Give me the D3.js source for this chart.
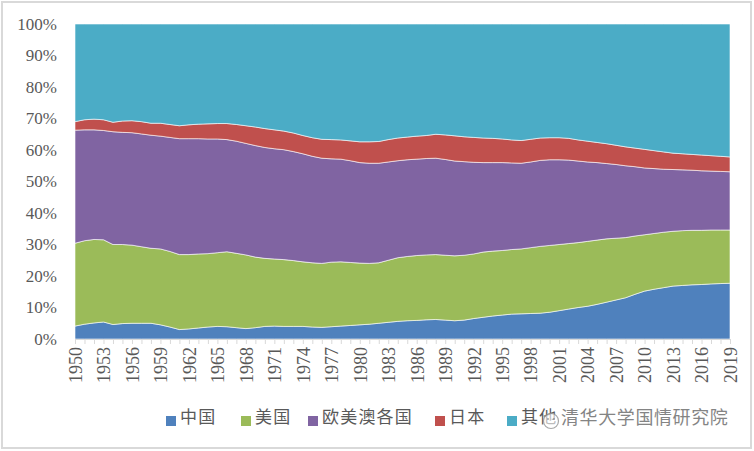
<!DOCTYPE html>
<html>
<head>
<meta charset="utf-8">
<script src="https://cdn.jsdelivr.net/npm/d3@7"></script>
<style>
  html, body { margin: 0; padding: 0; background: #fff; }
  svg { display: block; }
</style>
</head>
<body>
<svg id="chart" width="754" height="451"></svg>
<script>
// ---------------- data ----------------
const years = [1950,1951,1952,1953,1954,1955,1956,1957,1958,1959,1960,1961,1962,1963,1964,1965,1966,1967,1968,1969,
  1970,1971,1972,1973,1974,1975,1976,1977,1978,1979,1980,1981,1982,1983,1984,1985,1986,1987,1988,1989,
  1990,1991,1992,1993,1994,1995,1996,1997,1998,1999,2000,2001,2002,2003,2004,2005,2006,2007,2008,2009,
  2010,2011,2012,2013,2014,2015,2016,2017,2018,2019];

const seriesNames = ["中国", "美国", "欧美澳各国", "日本", "其他"];

const china = [4.1,4.7,5.1,5.4,4.6,4.9,5.0,5.0,5.0,4.5,3.8,3.0,3.2,3.5,3.8,4.0,3.9,3.6,3.3,3.6,
  4.0,4.1,4.0,4.0,4.0,3.8,3.7,3.9,4.1,4.3,4.5,4.7,5.0,5.3,5.6,5.8,5.9,6.1,6.2,6.0,
  5.8,6.0,6.5,6.9,7.3,7.6,7.9,8.0,8.1,8.2,8.5,9.0,9.5,10.0,10.4,11.0,11.7,12.4,13.1,14.2,
  15.2,15.8,16.3,16.8,17.0,17.2,17.3,17.5,17.6,17.7];

const usa = [26.3,26.5,26.5,26.1,25.4,25.1,24.8,24.3,23.8,24.1,24.0,23.8,23.6,23.5,23.3,23.4,23.8,23.6,23.4,22.4,
  21.6,21.3,21.2,20.9,20.5,20.4,20.3,20.5,20.4,20.0,19.6,19.3,19.2,19.7,20.2,20.4,20.6,20.6,20.6,20.6,
  20.6,20.6,20.5,20.7,20.6,20.5,20.5,20.6,20.9,21.2,21.2,21.0,20.8,20.6,20.6,20.4,20.1,19.6,19.1,18.5,
  17.9,17.7,17.6,17.4,17.4,17.3,17.2,17.1,17.0,16.9];

const europe = [35.9,35.2,34.8,34.7,35.8,35.6,35.7,35.8,35.9,35.8,36.2,36.8,36.8,36.6,36.4,36.1,35.6,35.6,35.4,35.4,
  35.2,35.0,34.9,34.6,34.3,33.8,33.4,32.8,32.6,32.3,31.9,31.8,31.6,31.2,30.8,30.7,30.6,30.6,30.6,30.4,
  30.1,29.7,29.1,28.4,28.1,27.9,27.5,27.2,27.2,27.3,27.2,26.9,26.5,25.9,25.2,24.6,23.9,23.4,22.8,22.0,
  21.2,20.6,20.0,19.6,19.3,19.1,18.9,18.7,18.6,18.5];

const japan = [2.7,3.2,3.4,3.4,3.0,3.6,3.8,3.9,3.8,4.1,4.1,4.1,4.4,4.6,4.8,4.9,5.1,5.3,5.6,5.9,
  6.0,6.0,5.9,5.9,5.8,5.9,6.0,6.1,6.1,6.3,6.6,6.8,6.9,7.1,7.2,7.2,7.3,7.3,7.6,7.8,
  8.0,7.9,7.9,7.8,7.7,7.5,7.3,7.2,7.2,7.1,7.0,7.0,6.9,6.7,6.6,6.4,6.3,6.1,6.0,5.9,
  5.9,5.7,5.5,5.2,5.1,5.0,5.0,4.9,4.8,4.7];

const others = [31.0,30.4,30.2,30.4,31.2,30.8,30.7,31.0,31.5,31.5,31.9,32.3,32.0,31.8,31.7,31.6,31.6,31.9,32.3,32.7,
  33.2,33.6,34.0,34.6,35.4,36.1,36.6,36.7,36.8,37.1,37.4,37.4,37.3,36.7,36.2,35.9,35.6,35.4,35.0,35.2,
  35.5,35.8,36.0,36.2,36.3,36.5,36.8,37.0,36.6,36.2,36.1,36.1,36.3,36.8,37.2,37.6,38.0,38.5,39.0,39.4,
  39.8,40.2,40.6,41.0,41.2,41.4,41.6,41.8,42.0,42.2];

const xTickLabels = ["1950","1953","1956","1959","1962","1965","1968","1971","1974","1977","1980","1983",
  "1986","1989","1992","1995","1998","2001","2004","2007","2010","2013","2016","2019"];
const yTickValues = [0,10,20,30,40,50,60,70,80,90,100];
const yTickLabels = ["0%","10%","20%","30%","40%","50%","60%","70%","80%","90%","100%"];

const colors = ["#4F81BD", "#9BBB59", "#8064A2", "#C0504D", "#4BACC6"];
const watermark = "清华大学国情研究院";

// ---------------- build ----------------
const seriesValues = [china, usa, europe, japan, others];
const rows = years.map((y, i) => {
  const r = { year: y };
  seriesNames.forEach((n, k) => { r[n] = seriesValues[k][i]; });
  return r;
});

const svg = d3.select("#chart");
const W = 754, H = 451;

// outer frame
svg.append("rect")
  .attr("x", 2).attr("y", 2).attr("width", W - 5).attr("height", H - 5)
  .attr("fill", "#fff").attr("stroke", "#d9d9d9").attr("stroke-width", 2);

const x = d3.scaleLinear().domain([1950, 2019]).range([75, 730]);
const y = d3.scaleLinear().domain([0, 100]).range([339, 24]);

const stack = d3.stack().keys(seriesNames);
const layers = stack(rows);

const area = d3.area()
  .x(d => x(d.data.year))
  .y0(d => y(d[0]))
  .y1(d => y(d[1]));

svg.append("g").selectAll("path")
  .data(layers)
  .join("path")
  .attr("d", area)
  .attr("fill", (d, i) => colors[i])
  .attr("stroke", "#ffffff")
  .attr("stroke-opacity", 0.75)
  .attr("stroke-width", 0.8);

// Y axis
const yAxis = d3.axisLeft(y)
  .tickValues(yTickValues)
  .tickSize(0)
  .tickPadding(0)
  .tickFormat((d, i) => yTickLabels[i]);
const gy = svg.append("g").attr("transform", "translate(57,0)").call(yAxis);
gy.select(".domain").remove();
gy.selectAll("text")
  .attr("font-family", "'Liberation Serif', 'Times New Roman', serif")
  .attr("font-size", 17)
  .attr("fill", "#595959");

// X axis ticks (every year)
const xTicks = d3.axisBottom(x)
  .tickValues(years)
  .tickSize(5)
  .tickFormat("");
const gxt = svg.append("g").attr("transform", "translate(0,339)").call(xTicks);
gxt.select(".domain").attr("stroke", "#d9d9d9");
gxt.selectAll(".tick line").attr("stroke", "#d9d9d9");

// X axis labels (every 3 years, rotated)
const xLab = d3.axisBottom(x)
  .tickValues(xTickLabels.map(Number))
  .tickSize(0)
  .tickFormat((d, i) => xTickLabels[i]);
const gxl = svg.append("g").attr("transform", "translate(0,339)").call(xLab);
gxl.select(".domain").remove();
gxl.selectAll("text")
  .attr("font-family", "'Liberation Serif', 'Times New Roman', serif")
  .attr("font-size", 18)
  .attr("fill", "#595959")
  .attr("text-anchor", "end")
  .attr("dy", "0.35em")
  .attr("y", 0)
  .attr("transform", "translate(0,8) rotate(-90)");

// Legend
const legendX = [166, 241, 308, 435, 507];
const lg = svg.append("g");
seriesNames.forEach((n, i) => {
  lg.append("rect")
    .attr("x", legendX[i]).attr("y", 416)
    .attr("width", 10).attr("height", 10)
    .attr("fill", colors[i]);
  lg.append("text")
    .attr("x", legendX[i] + 14).attr("y", 423)
    .attr("font-family", "'Noto Sans CJK SC', sans-serif")
    .attr("font-size", 17)
    .attr("letter-spacing", 1.2)
    .attr("fill", "#595959")
    .text(n);
});

// Watermark (overlapping legend, as in source image)
const wm = svg.append("g").attr("opacity", 0.85);
wm.append("circle").attr("cx", 551).attr("cy", 421).attr("r", 7.5)
  .attr("fill", "#fff").attr("fill-opacity", 0.7)
  .attr("stroke", "#999").attr("stroke-width", 1.2);
wm.append("circle").attr("cx", 548).attr("cy", 419).attr("r", 1).attr("fill", "#999");
wm.append("circle").attr("cx", 554).attr("cy", 419).attr("r", 1).attr("fill", "#999");
wm.append("text")
  .attr("x", 561).attr("y", 424)
  .attr("font-family", "'Noto Sans CJK SC', sans-serif")
  .attr("font-size", 18)
  .attr("letter-spacing", 0.6)
  .attr("fill", "#6f6f6f")
  .attr("stroke", "#ffffff").attr("stroke-width", 0.6).attr("paint-order", "stroke")
  .text(watermark);
</script>
</body>
</html>
